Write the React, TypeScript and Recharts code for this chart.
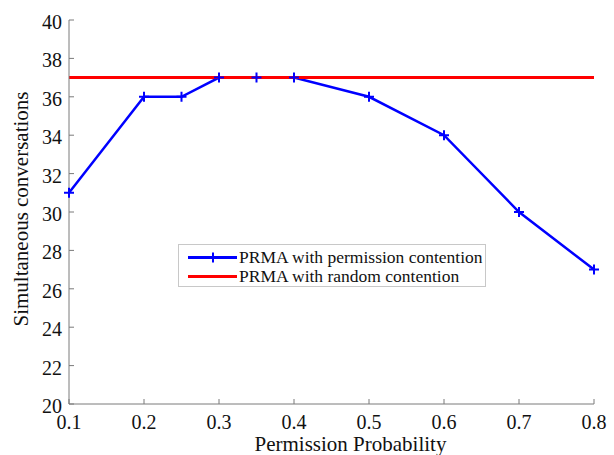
import { LineChart, Line, XAxis, YAxis, Legend } from "recharts";

const probability = [0.1, 0.2, 0.25, 0.3, 0.35, 0.4, 0.5, 0.6, 0.7, 0.8];
const permissionContention = [31, 36, 36, 37, 37, 37, 36, 34, 30, 27];
const randomContention = [37, 37, 37, 37, 37, 37, 37, 37, 37, 37];

const xTicks = [0.1, 0.2, 0.3, 0.4, 0.5, 0.6, 0.7, 0.8];
const yTicks = [20, 22, 24, 26, 28, 30, 32, 34, 36, 38, 40];

const seriesNames = ["PRMA with permission contention", "PRMA with random contention"];

const FONT = "Liberation Serif";
const AXIS = "#7a7a7a";
const BLUE = "#0000ff";
const RED = "#ff0000";

const data = probability.map((p, i) => ({
  p,
  permission: permissionContention[i],
  random: randomContention[i],
}));

function PlusDot(props: any) {
  const { cx, cy, index } = props;
  if (cx == null || cy == null) return null;
  return (
    <path
      key={`plus-${index}`}
      d={`M${cx - 5},${cy}h10M${cx},${cy - 5}v10`}
      stroke={BLUE}
      strokeWidth={2}
      fill="none"
    />
  );
}

function XTick(props: any) {
  const { x, y, payload } = props;
  return (
    <text x={x} y={y + 30} textAnchor="middle" style={{ fontFamily: FONT, fontSize: 20 }} fill="#111">
      {payload.value.toFixed(1)}
    </text>
  );
}

function YTick(props: any) {
  const { x, y, payload } = props;
  return (
    <text x={x - 12} y={y + 9} textAnchor="end" style={{ fontFamily: FONT, fontSize: 20 }} fill="#111">
      {payload.value}
    </text>
  );
}

function LegendBox() {
  const row = (color: string, label: string, marker: boolean) => (
    <div style={{ display: "flex", alignItems: "center", height: 19 }}>
      <svg width={51} height={19} style={{ flexShrink: 0 }}>
        <line x1={0} y1={9.5} x2={49} y2={9.5} stroke={color} strokeWidth={3} />
        {marker && <path d="M25,4.5v10" stroke={color} strokeWidth={2} />}
      </svg>
      <span style={{ fontFamily: FONT, fontSize: 17.5, color: "#111", lineHeight: "19px", whiteSpace: "nowrap" }}>
        {label}
      </span>
    </div>
  );
  return (
    <div
      style={{
        border: "1px solid #c8c8c8",
        background: "#fff",
        padding: "3px 0 0 9px",
        width: 297,
        height: 38,
        boxSizing: "content-box",
      }}
    >
      {row(BLUE, seriesNames[0], true)}
      {row(RED, seriesNames[1], false)}
    </div>
  );
}

export default function App() {
  return (
    <div style={{ position: "fixed", left: 0, top: 0, background: "#fff", fontFamily: FONT }}>
      <LineChart width={614} height={455} data={data} margin={{ top: 20, right: 20, bottom: 0, left: 0 }}>
        <XAxis
          type="number"
          dataKey="p"
          domain={[0.1, 0.8]}
          ticks={xTicks}
          height={51}
          axisLine={{ stroke: AXIS }}
          tickLine={{ stroke: AXIS }}
          tickSize={-5}
          tickMargin={0}
          tick={<XTick />}
          interval={0}
          label={(p: any) => {
            const vb = p.viewBox;
            return (
              <text x={vb.x + vb.width / 2 + 19} y={451} textAnchor="middle" style={{ fontFamily: FONT, fontSize: 21 }} fill="#111">
                Permission Probability
              </text>
            );
          }}
        />
        <YAxis
          type="number"
          domain={[20, 40]}
          ticks={yTicks}
          width={69}
          axisLine={{ stroke: AXIS }}
          tickLine={{ stroke: AXIS }}
          tickSize={-5}
          tickMargin={0}
          tick={<YTick />}
          interval={0}
          label={() => (
            <text x={28} y={209} transform="rotate(-90, 28, 209)" textAnchor="middle" style={{ fontFamily: FONT, fontSize: 21 }} fill="#111">
              Simultaneous conversations
            </text>
          )}
        />
        <Legend
          layout="vertical"
          align="center"
          verticalAlign="middle"
          content={() => <LegendBox />}
          wrapperStyle={{ left: 178, top: 244, width: "auto" }}
        />
        <Line
          dataKey="permission"
          name={seriesNames[0]}
          stroke={BLUE}
          strokeWidth={2.5}
          dot={PlusDot}
          activeDot={false}
          isAnimationActive={false}
        />
        <Line
          dataKey="random"
          name={seriesNames[1]}
          stroke={RED}
          strokeWidth={3}
          dot={false}
          activeDot={false}
          isAnimationActive={false}
        />
      </LineChart>
    </div>
  );
}
